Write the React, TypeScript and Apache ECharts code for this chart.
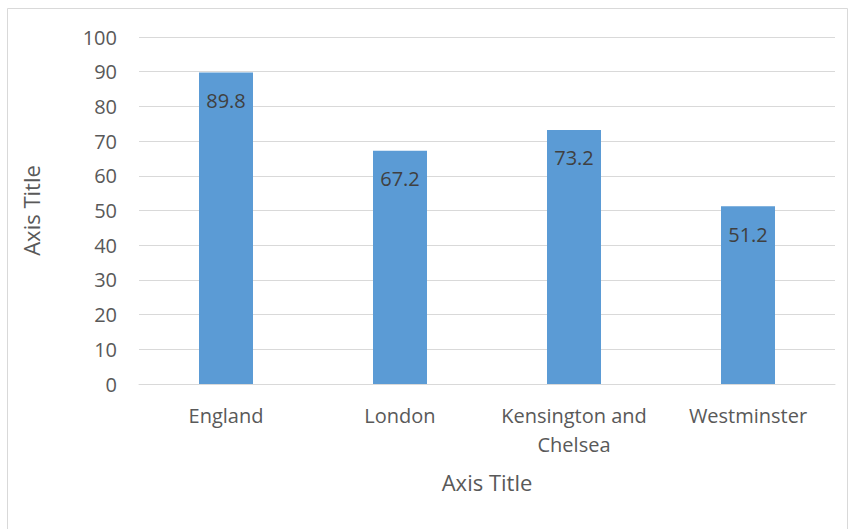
import React, { useEffect, useRef } from "react";
import * as echarts from "echarts";

const categories = ["England", "London", "Kensington and\nChelsea", "Westminster"];
const values = [89.8, 67.2, 73.2, 51.2];
const yMin = 0;
const yMax = 100;
const yInterval = 10;
const xAxisTitle = "Axis Title";
const yAxisTitle = "Axis Title";

const FONT = "'Open Sans', 'Liberation Sans', sans-serif";

export default function App() {
  const ref = useRef<HTMLDivElement>(null);
  useEffect(() => {
    if (!ref.current) return;
    const chart = echarts.init(ref.current, undefined, { renderer: "svg" });
    chart.setOption({
      animation: false,
      backgroundColor: "#ffffff",
      textStyle: { fontFamily: FONT },
      graphic: [
        {
          type: "rect",
          shape: { x: 7.5, y: 8.5, width: 840, height: 530 },
          style: { fill: "none", stroke: "#D9D9D9", lineWidth: 1 },
          silent: true,
        },
      ],
      grid: { left: 139, right: 18, top: 37, bottom: 145, containLabel: false },
      xAxis: {
        type: "category",
        data: categories,
        axisLine: { show: true, lineStyle: { color: "#D9D9D9", width: 1 } },
        axisTick: { show: false },
        axisLabel: {
          color: "#595959",
          fontSize: 20,
          fontFamily: FONT,
          margin: 17,
          lineHeight: 29,
          interval: 0,
        },
        name: xAxisTitle,
        nameLocation: "middle",
        nameGap: 87,
        nameTextStyle: { color: "#595959", fontSize: 22, fontFamily: FONT },
      },
      yAxis: {
        type: "value",
        min: yMin,
        max: yMax,
        interval: yInterval,
        axisLine: { show: false },
        axisTick: { show: false },
        splitLine: { lineStyle: { color: "#D9D9D9", width: 1 } },
        axisLabel: { color: "#595959", fontSize: 20, fontFamily: FONT, margin: 22 },
        name: yAxisTitle,
        nameLocation: "middle",
        nameGap: 97,
        nameTextStyle: { color: "#595959", fontSize: 22, fontFamily: FONT },
      },
      series: [
        {
          type: "bar",
          data: values,
          barWidth: 54,
          itemStyle: { color: "#5B9BD5" },
          label: {
            show: true,
            position: "insideTop",
            distance: 18,
            color: "#404040",
            fontSize: 20,
            fontFamily: FONT,
          },
        },
      ],
    });
    return () => chart.dispose();
  }, []);
  return (
    <div
      ref={ref}
      style={{ position: "fixed", left: 0, top: 0, width: 853, height: 529 }}
    />
  );
}
